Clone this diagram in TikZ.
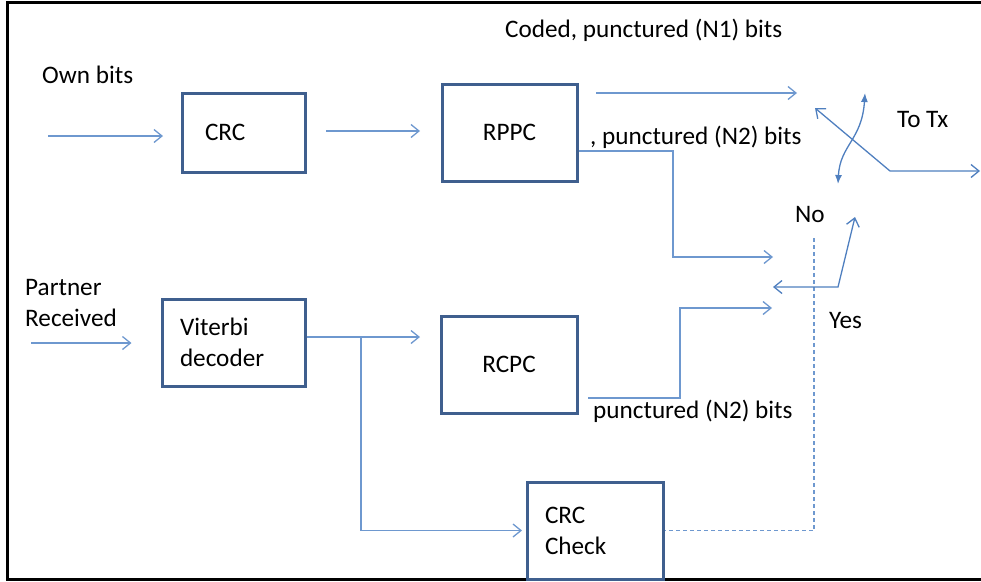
\documentclass[tikz,border=0pt]{standalone}
\usepackage{fontspec}
\setmainfont{Carlito}
\usetikzlibrary{arrows.meta,calc}
\definecolor{boxblue}{HTML}{3F5F8E}
\definecolor{wireblue}{HTML}{6E98CF}
\definecolor{swblue}{HTML}{4F7FBF}
\begin{document}
\begin{tikzpicture}[x=1pt,y=-1pt,
  font=\fontsize{25.2}{31}\selectfont,
  blk/.style={draw=boxblue, line width=3pt, inner sep=0pt, align=center},
  wire/.style={draw=wireblue, line width=1.3pt, -{Straight Barb[length=8pt,width=13pt]}},
  swwire/.style={draw=swblue, line width=1.3pt},
  barb/.tip={Straight Barb[length=8pt,width=13pt]},
  solidtip/.tip={Latex[length=9pt,width=7pt]},
  lbl/.style={anchor=base west, inner sep=0pt, align=left}]
\useasboundingbox (0,0) rectangle (981,581);

% outer frame (open on the right)
\draw[line width=3pt] (981,2) -- (7,2) -- (7,579) -- (981,579);

% processing blocks
\node[blk, minimum width=123pt, minimum height=79pt, text width=77pt, align=left] (crc) at (243.5,132.5) {CRC};
\node[blk, minimum width=135pt, minimum height=97pt] (rppc) at (509.5,132.5) {RPPC};
\node[blk, minimum width=143pt, minimum height=87pt, text width=107pt, align=left] (vit) at (233.5,342.5) {Viterbi\\decoder};
\node[blk, minimum width=136pt, minimum height=97pt] (rcpc) at (509,364.5) {RCPC};
\node[blk, minimum width=136pt, minimum height=97pt, text width=100pt, align=left] (chk) at (595,530.5) {CRC\\Check};

% labels (multi-line labels are anchored on their last baseline)
\node[lbl] (own) at (42,83) {Own bits};
\node[lbl] (partner) at (25,326) {Partner\\Received};
\node[lbl] (n1lbl) at (505,37) {Coded, punctured (N1) bits};
\node[lbl] (n2lbl) at (590,144) {, punctured (N2) bits};
\node[lbl] (n2blbl) at (593,418) {punctured (N2) bits};
\node[lbl] (totx) at (897,127) {To Tx};
\node[lbl] (no) at (795,222) {No};
\node[lbl] (yes) at (829,328) {Yes};

% free ends and bends
\coordinate (ownin) at (48,136);
\coordinate (partin) at (31,343);
\coordinate (n1in) at (797,93);
\coordinate (n2in) at (773,257);
\coordinate (yesout) at (773,287);
\coordinate (yesknee) at (838,287);
\coordinate (yestip) at (855,217);
\coordinate (rcin) at (772,308);
\coordinate (rcstart) at (588,398);
\coordinate (split) at (361,337);
\coordinate (nodash) at (814,238);
\coordinate (swpivot) at (890,171);
\coordinate (swtop) at (815,108);
\coordinate (txout) at (980,171);
\coordinate (curvebot) at (838,184);
\coordinate (curvetop) at (865,93);

% upper chain
\draw[wire, shorten >=17.5pt] (ownin) -- (ownin-|crc.west);
\draw[wire, shorten <=19.5pt, shorten >=20.5pt] ($(crc.east)+(0,-1.5)$) -- ($(crc.east-|rppc.west)+(0,-1.5)$);
\draw[wire, shorten <=17.5pt] (rppc.east|-n1in) -- (n1in);
\draw[wire] ($(rppc.east)+(0,18.5)$) -| ($(n2in)+(-100,0)$) -- (n2in);

% lower chain
\draw[wire, shorten >=29pt] (partin) -- (partin-|vit.west);
\draw[wire, shorten >=19.5pt] (vit.east|-split) -- (split-|rcpc.west);
\draw[wire, shorten >=3.5pt] (split) |- (chk.west);
\draw[wire] (rcstart) -| ($(rcin)+(-92,0)$) -- (rcin);

% CRC check decision (dashed)
\draw[draw=wireblue, line width=1.3pt, dash pattern=on 4pt off 3pt] (nodash) |- (chk.east);

% switch
\draw[swwire, barb-barb] (yesout) -- (yesknee) -- (yestip);
\draw[swwire, barb-barb] (swtop) -- (swpivot) -- (txout);
\draw[swwire, solidtip-solidtip] (curvebot) .. controls (840,145) and (862,140) .. (curvetop);
\end{tikzpicture}
\end{document}
